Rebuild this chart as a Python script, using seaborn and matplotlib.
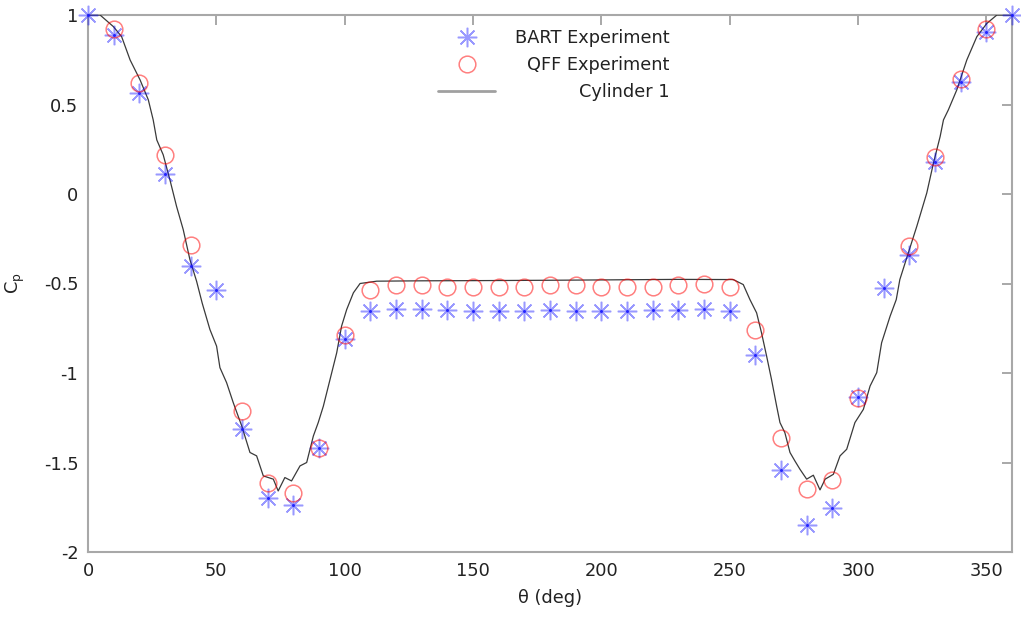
import matplotlib
matplotlib.use("Agg")
import matplotlib.pyplot as plt
import seaborn as sns
import numpy as np
import pandas as pd

# ---------------- data ----------------
bart_theta = [0, 10, 20, 30, 40, 50, 60, 70, 80, 90, 100, 110, 120, 130, 140, 150,
              160, 170, 180, 190, 200, 210, 220, 230, 240, 250, 260, 270, 280, 290,
              300, 310, 320, 330, 340, 350, 360]
bart_cp = [1.0, 0.89, 0.565, 0.113, -0.404, -0.534, -1.315, -1.70, -1.74, -1.417,
           -0.809, -0.651, -0.641, -0.641, -0.65, -0.655, -0.655, -0.655, -0.65,
           -0.655, -0.655, -0.655, -0.65, -0.65, -0.641, -0.655, -0.902, -1.541,
           -1.848, -1.753, -1.132, -0.524, -0.338, 0.176, 0.628, 0.907, 1.0]

qff_theta = [10, 20, 30, 40, 60, 70, 80, 90, 100, 110, 120, 130, 140, 150, 160, 170,
             180, 190, 200, 210, 220, 230, 240, 250, 260, 270, 280, 290, 300, 320,
             330, 340, 350]
qff_cp = [0.922, 0.622, 0.219, -0.283, -1.214, -1.617, -1.673, -1.417, -0.79, -0.534,
          -0.511, -0.511, -0.517, -0.517, -0.517, -0.517, -0.511, -0.511, -0.517,
          -0.517, -0.517, -0.511, -0.502, -0.519, -0.761, -1.361, -1.649, -1.597,
          -1.138, -0.292, 0.206, 0.643, 0.922]

cyl_theta = [0, 4.7, 9.9, 13.1, 16.4, 20.3, 23.5, 25.4, 26.8, 29.3, 31.9, 34.5, 37.1,
             39.7, 42.3, 44.5, 47.5, 50.1, 51.4, 54.0, 56.6, 59.9, 63.1, 65.7, 68.3,
             72.2, 74.1, 76.7, 79.3, 82.6, 85.2, 87.8, 89.7, 91.7, 94.3, 96.9, 98.8,
             100.8, 103.4, 106.0, 112.5, 130, 150, 178.6, 200, 230, 251.4, 255.3,
             257.9, 260.5, 262.4, 264.4, 266.3, 268.3, 269.6, 271.5, 273.5, 275.4,
             277.4, 280.0, 282.6, 285.2, 287.2, 290.4, 293.0, 295.6, 298.8, 302.1,
             304.7, 307.3, 309.2, 312.5, 314.9, 316.3, 319.6, 322.9, 326.8, 329.4,
             332.0, 333.3, 335.2, 338.5, 342.4, 346.3, 350.2, 354.1, 360]
cyl_cp = [1.0, 1.0, 0.935, 0.879, 0.749, 0.637, 0.526, 0.414, 0.302, 0.219, 0.080,
          -0.069, -0.199, -0.366, -0.487, -0.61, -0.757, -0.850, -0.970, -1.054,
          -1.166, -1.296, -1.444, -1.463, -1.575, -1.593, -1.659, -1.584, -1.603,
          -1.519, -1.500, -1.352, -1.277, -1.185, -1.036, -0.887, -0.738, -0.645,
          -0.552, -0.500, -0.487, -0.485, -0.484, -0.482, -0.480, -0.477, -0.478,
          -0.506, -0.59, -0.664, -0.775, -0.906, -1.036, -1.185, -1.277, -1.333,
          -1.444, -1.491, -1.538, -1.593, -1.571, -1.653, -1.593, -1.566, -1.463,
          -1.426, -1.277, -1.203, -1.073, -0.998, -0.831, -0.683, -0.59, -0.478,
          -0.329, -0.181, 0.006, 0.173, 0.321, 0.414, 0.470, 0.582, 0.749, 0.879,
          0.953, 1.0, 1.0]

x_ticks = [0, 50, 100, 150, 200, 250, 300, 350]
y_ticks = [-2, -1.5, -1, -0.5, 0, 0.5, 1]
y_ticklabels = ["-2", "-1.5", "-1", "-0.5", "0", "0.5", "1"]
labels = ["BART Experiment", "QFF Experiment", "Cylinder 1"]

# ---------------- style ----------------
sns.set_theme(style="white")
plt.rcParams["font.family"] = ["DejaVu Sans"]
plt.rcParams["mathtext.default"] = "regular"
plt.rcParams["axes.unicode_minus"] = False

FS = 12.8
fig = plt.figure(figsize=(10.21, 6.20), dpi=100)
ax = fig.add_axes([88 / 1021, 1 - 552 / 620, 924 / 1021, 537 / 620])

spine_col = "#a8a8a8"
text_col = "#222222"

df_cyl = pd.DataFrame({"theta": cyl_theta, "cp": cyl_cp})
df_bart = pd.DataFrame({"theta": bart_theta, "cp": bart_cp})
df_qff = pd.DataFrame({"theta": qff_theta, "cp": qff_cp})

sns.lineplot(data=df_cyl, x="theta", y="cp", ax=ax, color="#3a3a3a", linewidth=0.9,
             sort=False, estimator=None, errorbar=None, label=labels[2], zorder=2)
sns.lineplot(data=df_bart, x="theta", y="cp", ax=ax, color="blue", linestyle="",
             marker=(8, 2, 0), markersize=14, markeredgewidth=1.1,
             markeredgecolor="blue", alpha=0.4, sort=False, estimator=None,
             errorbar=None, label=labels[0], zorder=3, clip_on=False)
sns.lineplot(data=df_bart, x="theta", y="cp", ax=ax, color="blue", linestyle="",
             marker="o", markersize=2.2, markeredgewidth=0,
             markerfacecolor="#1a1aff", alpha=0.9, sort=False, estimator=None,
             errorbar=None, label="_nolegend_", zorder=3, clip_on=False)
sns.lineplot(data=df_qff, x="theta", y="cp", ax=ax, color="red", linestyle="",
             marker="o", markersize=12, markeredgewidth=1.1, markerfacecolor="none",
             markeredgecolor="red", alpha=0.5, sort=False, estimator=None,
             errorbar=None, label=labels[1], zorder=3, clip_on=False)

ax.set_xlim(0, 360)
ax.set_ylim(-2, 1)
ax.set_xticks(x_ticks)
ax.set_yticks(y_ticks)
ax.set_yticklabels(y_ticklabels)
ax.tick_params(direction="in", length=7.5, width=1.4, color=spine_col,
               top=True, right=True, labelsize=FS, labelcolor=text_col, pad=7)
for s in ax.spines.values():
    s.set_color(spine_col)
    s.set_linewidth(1.5)
    s.set_zorder(1)

ax.set_xlabel("θ (deg)", fontsize=FS, color=text_col, labelpad=7)
ax.set_ylabel("C$_p$", fontsize=FS, color=text_col, labelpad=12)

handles, labs = ax.get_legend_handles_labels()
order = [labs.index(l) for l in labels]
leg = ax.legend([handles[i] for i in order], [labs[i] for i in order],
                loc="upper left", bbox_to_anchor=(0.379, 0.974), frameon=False,
                fontsize=FS, handlelength=3.2, handletextpad=1.1,
                labelspacing=0.5, borderpad=0, borderaxespad=0, numpoints=1)
lh = leg.legend_handles
lh[2].set_color("#a0a0a0")
lh[2].set_linewidth(2.0)
for t in leg.get_texts():
    t.set_color(text_col)

# right-justify legend texts (gnuplot style)
fig.canvas.draw()
renderer = fig.canvas.get_renderer()
widths = [t.get_window_extent(renderer).width for t in leg.get_texts()]
wmax = max(widths)
for t, w in zip(leg.get_texts(), widths):
    t.set_x(wmax - w)

fig.savefig("out.png", dpi=100)
